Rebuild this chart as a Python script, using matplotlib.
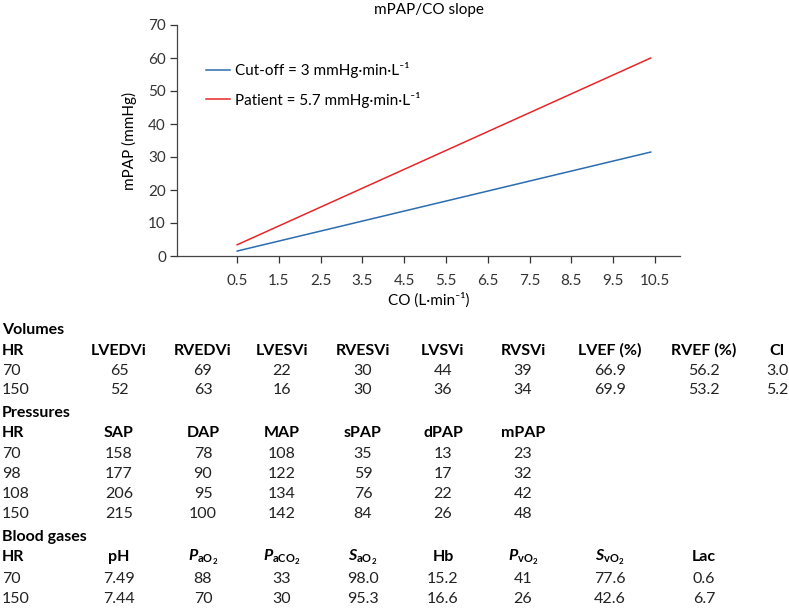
import numpy as np
import matplotlib.pyplot as plt

plt.rcParams['font.family'] = ['Lato', 'DejaVu Sans']
plt.rcParams['mathtext.fontset'] = 'custom'
plt.rcParams['mathtext.rm'] = 'Lato'
plt.rcParams['mathtext.it'] = 'Lato:italic:bold'
plt.rcParams['mathtext.bf'] = 'Lato:bold'

# chart data
co = [0.5, 10.4]
cutoff = [1.5, 31.5]
patient = [3.4, 60.0]
xticks = [0.5, 1.5, 2.5, 3.5, 4.5, 5.5, 6.5, 7.5, 8.5, 9.5, 10.5]
yticks = [0, 10, 20, 30, 40, 50, 60, 70]

# tables
vol_cols = ['HR', 'LVEDVi', 'RVEDVi', 'LVESVi', 'RVESVi', 'LVSVi', 'RVSVi', 'LVEF (%)', 'RVEF (%)', 'CI']
vol_rows = [['70', '65', '69', '22', '30', '44', '39', '66.9', '56.2', '3.0'],
            ['150', '52', '63', '16', '30', '36', '34', '69.9', '53.2', '5.2']]
pres_cols = ['HR', 'SAP', 'DAP', 'MAP', 'sPAP', 'dPAP', 'mPAP']
pres_rows = [['70', '158', '78', '108', '35', '13', '23'],
             ['98', '177', '90', '122', '59', '17', '32'],
             ['108', '206', '95', '134', '76', '22', '42'],
             ['150', '215', '100', '142', '84', '26', '48']]
gas_cols = ['HR', 'pH', r'$\mathit{P}_{\mathbf{aO}_{\mathbf{2}}}$', r'$\mathit{P}_{\mathbf{aCO}_{\mathbf{2}}}$',
            r'$\mathit{S}_{\mathbf{aO}_{\mathbf{2}}}$', 'Hb', r'$\mathit{P}_{\mathbf{vO}_{\mathbf{2}}}$',
            r'$\mathit{S}_{\mathbf{vO}_{\mathbf{2}}}$', 'Lac']
gas_rows = [['70', '7.49', '88', '33', '98.0', '15.2', '41', '77.6', '0.6'],
            ['150', '7.44', '70', '30', '95.3', '16.6', '26', '42.6', '6.7']]

W, H = 789, 608
fig = plt.figure(figsize=(W / 100, H / 100), dpi=100)
ax = fig.add_axes([177 / W, 1 - 256 / H, (680 - 177) / W, (256 - 25) / H])

ax.plot(co, cutoff, color='#2b6cb0', lw=1.1, label='Cut-off = 3 mmHg·min·L⁻¹')
ax.plot(co, patient, color='#e8262a', lw=1.1, label='Patient = 5.7 mmHg·min·L⁻¹')
ax.set_xlim(-0.94, 11.1)
ax.set_ylim(0, 70)
ax.set_xticks(xticks)
ax.set_xticklabels([str(t) for t in xticks])
ax.set_yticks(yticks)
for s in ['top', 'right']:
    ax.spines[s].set_visible(False)
for s in ['left', 'bottom']:
    ax.spines[s].set_color('#444444')
    ax.spines[s].set_linewidth(0.9)
ax.tick_params(labelsize=11, colors='#333333', length=5, width=0.9, pad=8)
ax.tick_params(axis='y', pad=3)
ax.set_title('mPAP/CO slope', fontsize=11, pad=8)
ax.set_xlabel('CO (L·min⁻¹)', fontsize=11, labelpad=3)
ax.set_ylabel('mPAP (mmHg)', fontsize=11, labelpad=8)
ax.legend(loc='upper left', bbox_to_anchor=(0.03, 0.90), frameon=False, fontsize=11,
          handlelength=1.6, handletextpad=0.3, labelspacing=0.9)

col_x = [2, 119, 203, 282, 363, 443, 523, 610, 704, 777]
fs = 11.5


def draw_section(title, y_title, y_head, y_rows, cols, rows):
    fig.text(2 / W, 1 - y_title / H, title, fontsize=fs, fontweight='bold', va='baseline')
    for i, c in enumerate(cols):
        ha = 'left' if i == 0 else 'center'
        fig.text(col_x[i] / W, 1 - y_head / H, c, fontsize=fs, fontweight='bold', ha=ha, va='baseline')
    for r, y in zip(rows, y_rows):
        for i, v in enumerate(r):
            ha = 'left' if i == 0 else 'center'
            fig.text(col_x[i] / W, 1 - y / H, v, fontsize=fs, ha=ha, va='baseline', color='#222222')


draw_section('Volumes', 334, 355, [375, 394], vol_cols, vol_rows)
draw_section('Pressures', 417, 437, [458, 478, 498, 518], pres_cols, pres_rows)
draw_section('Blood gases', 541, 561, [583, 603], gas_cols, gas_rows)

fig.savefig('out.png', dpi=100)
